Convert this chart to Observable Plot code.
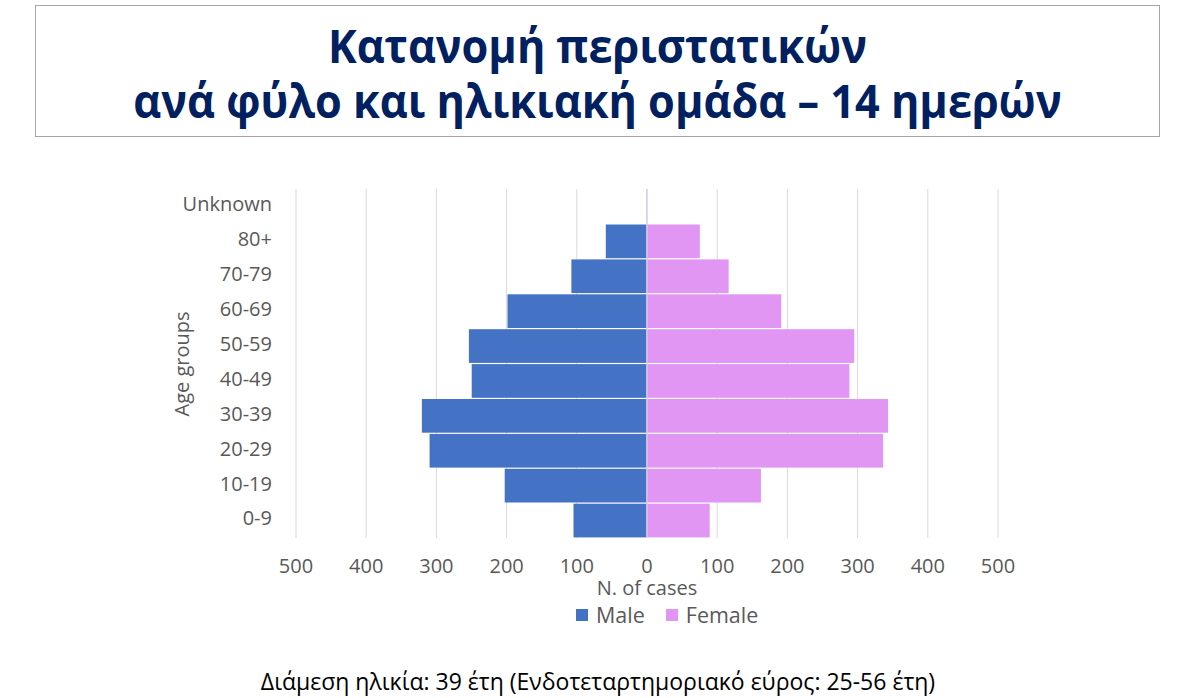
<!DOCTYPE html>
<html>
<head>
<meta charset="utf-8">
<script src="https://cdn.jsdelivr.net/npm/d3@7"></script>
<script src="https://cdn.jsdelivr.net/npm/@observablehq/plot@0.6"></script>
<style>
  html, body { margin: 0; padding: 0; background: #fff; }
  body { width: 1196px; height: 698px; position: relative; overflow: hidden; font-family: "Open Sans", sans-serif; }
  #titlebox { position: absolute; left: 35px; top: 5px; width: 1125px; height: 132px; box-sizing: border-box; border: 1px solid #a6a6a6; }
  #title { position: absolute; left: 35px; top: 18px; width: 1125px; text-align: center; font-weight: 700; font-size: 46px; line-height: 55px; color: #002060; transform: scaleX(0.94); transform-origin: 562.5px 0; }
  #chart { position: absolute; left: 0; top: 150px; }
  #legend { position: absolute; left: 576px; top: 600px; display: flex; align-items: center; font-size: 21.5px; color: #595959; }
  #legend .sw { width: 12px; height: 12px; display: inline-block; margin-right: 8px; }
  #legend .item { display: flex; align-items: center; margin-right: 21px; }
  #foot { position: absolute; left: 0; top: 665px; width: 1196px; text-align: center; font-size: 23px; line-height: 32px; color: #000; }
</style>
</head>
<body>
<div id="titlebox"></div>
<div id="title">Κατανομή περιστατικών<br>ανά φύλο και ηλικιακή ομάδα – 14 ημερών</div>
<div id="chart"></div>
<div id="legend"></div>
<div id="foot">Διάμεση ηλικία: 39 έτη (Ενδοτεταρτημοριακό εύρος: 25-56 έτη)</div>
<script>
const ageGroups = ["Unknown", "80+", "70-79", "60-69", "50-59", "40-49", "30-39", "20-29", "10-19", "0-9"];
const male = [0, 58, 107, 198, 253, 249, 320, 309, 202, 104];
const female = [1, 76, 117, 192, 296, 289, 344, 337, 163, 90];
const sexes = ["Male", "Female"];
const sexColors = ["#4472C4", "#E096F2"];
const xTicks = [-500, -400, -300, -200, -100, 0, 100, 200, 300, 400, 500];
const xLabel = "N. of cases";
const yLabel = "Age groups";

const rows = [];
ageGroups.forEach((g, i) => {
  rows.push({age: g, sex: "Male", value: -male[i]});
  rows.push({age: g, sex: "Female", value: female[i]});
});

const chart = Plot.plot({
  width: 1196,
  height: 470,
  marginLeft: 295.5,
  marginRight: 198.5,
  marginTop: 39,
  marginBottom: 82,
  style: {fontFamily: "Open Sans, sans-serif", background: "transparent"},
  x: {domain: [-500, 500]},
  y: {domain: ageGroups, padding: 0, round: false},
  color: {domain: sexes, range: sexColors},
  marks: [
    Plot.gridX(xTicks, {stroke: "#d9d9d9", strokeOpacity: 1, strokeWidth: 1}),
    Plot.barX(rows, {y: "age", x: "value", fill: "sex", insetTop: 0.6, insetBottom: 0.6}),
    Plot.ruleX([0], {stroke: "#d9d9d9", strokeWidth: 1}),
    Plot.axisX(xTicks, {tickSize: 0, tickPadding: 20, fontSize: 20, fill: "#595959", tickFormat: d => Math.abs(d), label: null}),
    Plot.axisY({tickSize: 0, tickPadding: 24, fontSize: 20, fill: "#595959", label: null, dy: -2}),
    Plot.text([xLabel], {frameAnchor: "bottom", dy: 50, fontSize: 20, fill: "#595959", lineAnchor: "middle", textAnchor: "middle"}),
    Plot.text([yLabel], {frameAnchor: "left", dx: -113.5, rotate: -90, fontSize: 20, fill: "#595959", lineAnchor: "middle", textAnchor: "middle"})
  ]
});
document.getElementById("chart").appendChild(chart);

const leg = document.getElementById("legend");
sexes.forEach((s, i) => {
  const item = document.createElement("div");
  item.className = "item";
  const sw = document.createElement("span");
  sw.className = "sw";
  sw.style.background = sexColors[i];
  item.appendChild(sw);
  item.appendChild(document.createTextNode(s));
  leg.appendChild(item);
});
</script>
</body>
</html>
